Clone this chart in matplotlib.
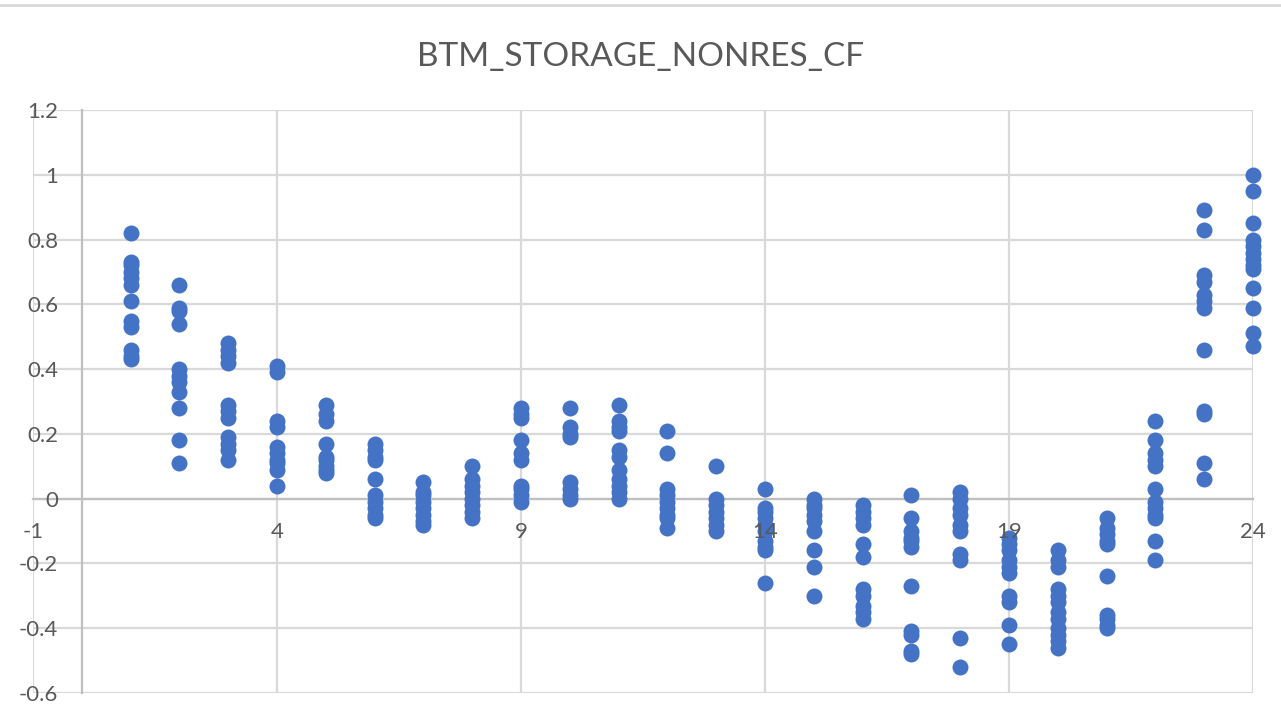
import numpy as np
import matplotlib.pyplot as plt
from matplotlib.lines import Line2D

# capacity factor samples for each hour of the day
hour_01 = [0.82, 0.73, 0.72, 0.70, 0.68, 0.66, 0.61, 0.55, 0.53, 0.46, 0.44, 0.43]
hour_02 = [0.66, 0.59, 0.58, 0.54, 0.40, 0.38, 0.36, 0.33, 0.28, 0.18, 0.11]
hour_03 = [0.48, 0.46, 0.44, 0.42, 0.29, 0.27, 0.25, 0.19, 0.17, 0.15, 0.12]
hour_04 = [0.41, 0.39, 0.24, 0.22, 0.16, 0.14, 0.12, 0.11, 0.09, 0.04]
hour_05 = [0.29, 0.26, 0.24, 0.17, 0.13, 0.12, 0.10, 0.09, 0.08]
hour_06 = [0.17, 0.15, 0.13, 0.12, 0.06, 0.01, -0.01, -0.03, -0.05, -0.06]
hour_07 = [0.05, 0.02, 0.01, -0.01, -0.03, -0.05, -0.07, -0.08]
hour_08 = [0.10, 0.06, 0.04, 0.02, 0.00, -0.02, -0.04, -0.06]
hour_09 = [0.28, 0.26, 0.25, 0.18, 0.14, 0.12, 0.04, 0.03, 0.01, -0.01]
hour_10 = [0.28, 0.22, 0.20, 0.19, 0.05, 0.03, 0.01, 0.00]
hour_11 = [0.29, 0.24, 0.22, 0.21, 0.15, 0.13, 0.09, 0.06, 0.04, 0.02, 0.00]
hour_12 = [0.21, 0.14, 0.03, 0.01, -0.01, -0.03, -0.05, -0.06, -0.09]
hour_13 = [0.10, 0.00, -0.02, -0.04, -0.06, -0.08, -0.10]
hour_14 = [0.03, -0.03, -0.04, -0.06, -0.08, -0.10, -0.13, -0.15, -0.16, -0.26]
hour_15 = [0.00, -0.02, -0.03, -0.05, -0.07, -0.10, -0.16, -0.21, -0.30]
hour_16 = [-0.02, -0.04, -0.06, -0.08, -0.14, -0.18, -0.28, -0.30, -0.33, -0.35, -0.37]
hour_17 = [0.01, -0.06, -0.10, -0.12, -0.13, -0.15, -0.27, -0.41, -0.42, -0.47, -0.48]
hour_18 = [0.02, 0.00, -0.03, -0.05, -0.08, -0.10, -0.17, -0.19, -0.43, -0.52]
hour_19 = [-0.12, -0.14, -0.16, -0.19, -0.21, -0.23, -0.30, -0.32, -0.39, -0.45]
hour_20 = [-0.16, -0.19, -0.21, -0.28, -0.30, -0.32, -0.35, -0.37, -0.40, -0.42, -0.44, -0.46]
hour_21 = [-0.06, -0.09, -0.11, -0.13, -0.14, -0.24, -0.36, -0.37, -0.39, -0.40]
hour_22 = [0.24, 0.18, 0.14, 0.12, 0.10, 0.03, -0.01, -0.03, -0.05, -0.06, -0.13, -0.19]
hour_23 = [0.89, 0.83, 0.69, 0.67, 0.63, 0.61, 0.59, 0.46, 0.27, 0.26, 0.11, 0.06]
hour_24 = [1.00, 0.95, 0.85, 0.80, 0.78, 0.76, 0.74, 0.72, 0.71, 0.65, 0.59, 0.51, 0.47]

columns = [hour_01, hour_02, hour_03, hour_04, hour_05, hour_06, hour_07, hour_08,
           hour_09, hour_10, hour_11, hour_12, hour_13, hour_14, hour_15, hour_16,
           hour_17, hour_18, hour_19, hour_20, hour_21, hour_22, hour_23, hour_24]

x_ticks = [-1, 4, 9, 14, 19, 24]
y_ticks = [-0.6, -0.4, -0.2, 0, 0.2, 0.4, 0.6, 0.8, 1, 1.2]

text_grey = '#595959'
grid_grey = '#d9d9d9'
axis_grey = '#bfbfbf'

plt.rcParams['font.family'] = ['Lato', 'DejaVu Sans']

fig = plt.figure(figsize=(12.81, 7.21), dpi=100)
ax = fig.add_axes([33 / 1281, 28 / 721, 1220 / 1281, 583 / 721])

xs = np.concatenate([np.full(len(c), h) for h, c in enumerate(columns, start=1)])
ys = np.concatenate(columns)
ax.plot(xs, ys, ls='none', marker='o', ms=11.5, mec='none', color='#4472c4',
        zorder=2, clip_on=False)

ax.set_xlim(-1, 24)
ax.set_ylim(-0.6, 1.2)

# gridlines drawn by hand so they sit under the markers while labels stay on top
for v in x_ticks:
    ax.axvline(v, color=grid_grey, lw=1.6, zorder=0.5)
for v in y_ticks:
    ax.axhline(v, color=grid_grey, lw=1.6, zorder=0.5)

# axes cross at zero
ax.spines['left'].set_position(('data', 0))
ax.spines['bottom'].set_position(('data', 0))
for side in ['top', 'right']:
    ax.spines[side].set_visible(False)
for side in ['left', 'bottom']:
    ax.spines[side].set_color(axis_grey)
    ax.spines[side].set_linewidth(1.6)
    ax.spines[side].set_zorder(0.6)

ax.set_xticks(x_ticks)
ax.set_xticklabels([f'{v:g}' for v in x_ticks])
ax.set_yticks(y_ticks)
ax.set_yticklabels([f'{v:g}' for v in y_ticks])
ax.tick_params(length=0, labelsize=16, labelcolor=text_grey)
ax.tick_params(axis='y', pad=17)
ax.tick_params(axis='x', pad=17)
ax.xaxis.set_zorder(3)
ax.yaxis.set_zorder(3)

fig.text(0.5, 1 - 57 / 721, 'BTM_STORAGE_NONRES_CF', ha='center', va='center',
         fontsize=24, color=text_grey)

# chart area border along the top
fig.add_artist(Line2D([0, 1], [1 - 5 / 721] * 2, color=grid_grey, lw=2,
                      transform=fig.transFigure))

fig.savefig('out.png', dpi=100)
